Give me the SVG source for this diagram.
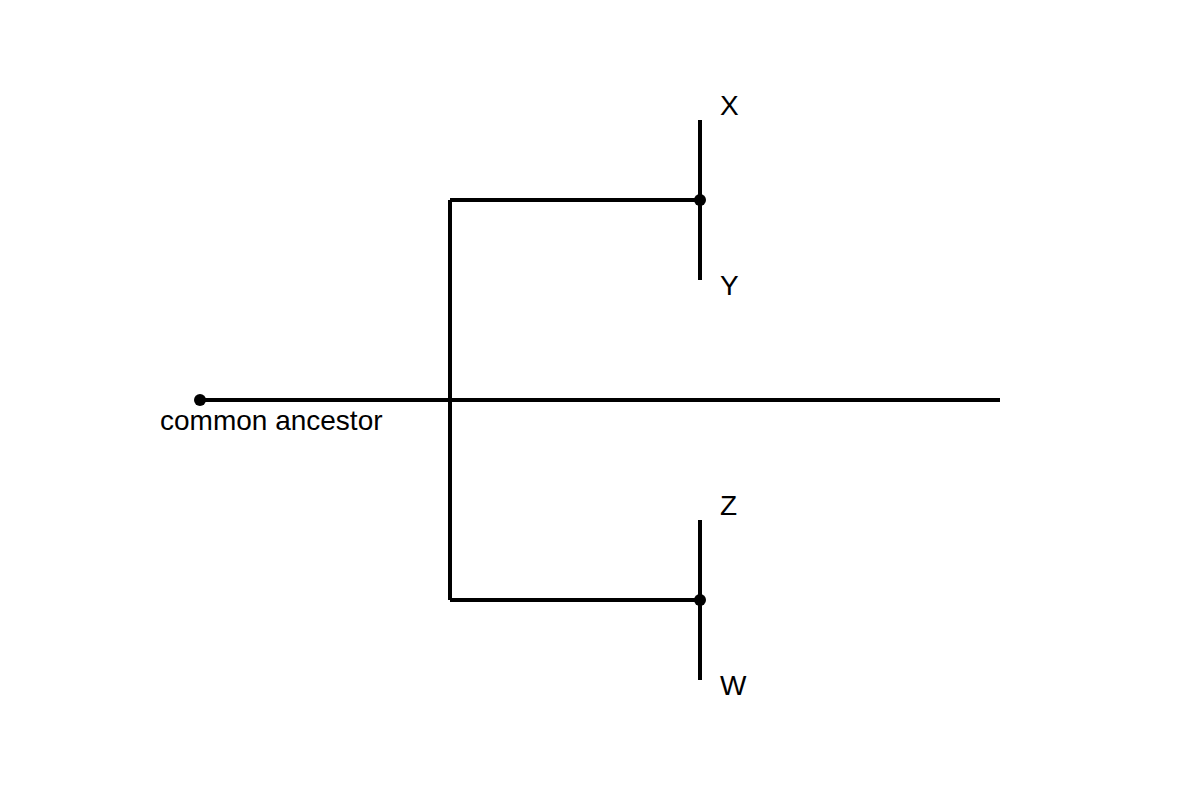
<svg xmlns="http://www.w3.org/2000/svg" width="1200" height="800" viewBox="0 0 1200 800">
<style>
.l{stroke:#000;stroke-width:4;fill:none}
.t{font-family:"Liberation Sans",Arial,sans-serif;font-size:28px;fill:#000}
</style>
<rect width="1200" height="800" fill="#fff"/>
<g id="connectors">
<line class="l" x1="200" y1="400" x2="1000" y2="400"/>
<line class="l" x1="450" y1="200" x2="450" y2="600"/>
<line class="l" x1="450" y1="200" x2="700" y2="200"/>
<line class="l" x1="450" y1="600" x2="700" y2="600"/>
<line class="l" x1="700" y1="120" x2="700" y2="280"/>
<line class="l" x1="700" y1="520" x2="700" y2="680"/>
</g>
<g id="ancestor"><circle cx="200" cy="400" r="6"/><text class="t" x="160" y="430">common ancestor</text></g>
<g id="node1"><circle cx="700" cy="200" r="6"/></g>
<g id="node2"><circle cx="700" cy="600" r="6"/></g>
<g id="X"><text class="t" x="720" y="115">X</text></g>
<g id="Y"><text class="t" x="720" y="295">Y</text></g>
<g id="Z"><text class="t" x="720" y="515">Z</text></g>
<g id="W"><text class="t" x="720" y="695">W</text></g>
</svg>
